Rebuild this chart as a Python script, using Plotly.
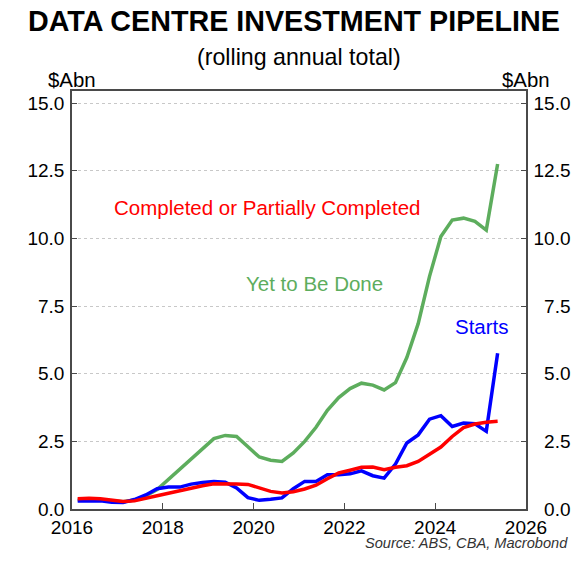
import plotly.graph_objects as go

quarters = [f"{y}Q{q}" for y in range(2016, 2026) for q in range(1, 5)][:38]

starts = [0.30, 0.31, 0.30, 0.25, 0.24, 0.35, 0.52, 0.75, 0.81, 0.81, 0.92, 0.98,
          1.02, 0.99, 0.78, 0.42, 0.32, 0.36, 0.41, 0.75, 1.02, 1.02, 1.27, 1.27,
          1.30, 1.41, 1.23, 1.14, 1.66, 2.44, 2.74, 3.32, 3.45, 3.05, 3.18, 3.15,
          2.87, 5.76]

completed = [0.38, 0.40, 0.38, 0.33, 0.28, 0.30, 0.38, 0.49, 0.58, 0.68, 0.79, 0.86,
             0.93, 0.94, 0.92, 0.91, 0.77, 0.65, 0.59, 0.64, 0.74, 0.88, 1.12, 1.33,
             1.43, 1.54, 1.55, 1.45, 1.54, 1.60, 1.76, 2.03, 2.29, 2.68, 3.01, 3.14,
             3.21, 3.24]

yet_to_be_done = [0.33, 0.35, 0.33, 0.30, 0.27, 0.33, 0.48, 0.72, 1.10, 1.50, 1.85, 2.25,
                  2.60, 2.72, 2.68, 2.30, 1.92, 1.80, 1.76, 2.07, 2.50, 3.02, 3.65, 4.12,
                  4.45, 4.65, 4.58, 4.40, 4.67, 5.60, 6.85, 8.60, 10.07, 10.68, 10.75, 10.63,
                  10.31, 12.75]

x_ticks = [2016, 2018, 2020, 2022, 2024, 2026]
y_ticks = [0.0, 2.5, 5.0, 7.5, 10.0, 12.5, 15.0]
y_left_labels = [f"{v:.1f}" for v in y_ticks]
y_right_labels = [("\u2007" if v < 10 else "") + f"{v:.1f}" for v in y_ticks]

# mid-quarter decimal year positions
x = [int(q[:4]) + (int(q[-1]) - 1) * 0.25 + 0.125 for q in quarters]

GREEN = "#5DAD5D"
RED = "#FF0000"
BLUE = "#0000FF"
FONT = "Liberation Sans, Arial, sans-serif"
AXIS = "#4a4a4a"

fig = go.Figure()
fig.add_trace(go.Scatter(x=x, y=yet_to_be_done, mode="lines", line=dict(color=GREEN, width=3.5), name="Yet to Be Done"))
fig.add_trace(go.Scatter(x=x, y=starts, mode="lines", line=dict(color=BLUE, width=3.5), name="Starts"))
fig.add_trace(go.Scatter(x=x, y=completed, mode="lines", line=dict(color=RED, width=3.5), name="Completed"))
fig.add_trace(go.Scatter(x=x, y=completed, mode="lines", line=dict(color="rgba(0,0,0,0)", width=0),
                         yaxis="y2", hoverinfo="skip", showlegend=False))

yrange = [0, 15.45]
common_y = dict(range=yrange, tickmode="array", tickvals=y_ticks, ticks="inside", ticklen=5,
                tickcolor=AXIS, showline=True, linecolor=AXIS, linewidth=1.5, automargin=False,
                tickfont=dict(size=19, color="#000", family=FONT), zeroline=False, fixedrange=True)

fig.update_layout(
    width=588, height=561,
    margin=dict(l=72, r=62, t=91, b=52, autoexpand=False),
    plot_bgcolor="white", paper_bgcolor="white",
    showlegend=False,
    font=dict(family=FONT, color="#000"),
    xaxis=dict(range=[2016, 2026], tickmode="array", tickvals=x_ticks, ticktext=[str(v) for v in x_ticks],
               ticks="inside", ticklen=6, tickcolor=AXIS, showline=True, linecolor=AXIS, linewidth=1.5,
               mirror=True, showgrid=False, zeroline=False, automargin=False, ticklabelstandoff=0,
               tickfont=dict(size=19, color="#000", family=FONT), fixedrange=True),
    yaxis=dict(**common_y, ticktext=y_left_labels, side="left", showgrid=True, gridcolor="#c8c8c8",
               griddash="dot", gridwidth=1, ticklabelstandoff=2),
    yaxis2=dict(**common_y, ticktext=y_right_labels, side="right", overlaying="y", showgrid=False,
                ticklabelstandoff=2),
)

ann = [
    dict(text="<b>DATA CENTRE INVESTMENT PIPELINE</b>", x=0.489, y=1.167, xref="paper", yref="paper",
         font=dict(size=28.7)),
    dict(text="(rolling annual total)", x=0.5, y=1.081, xref="paper", yref="paper", font=dict(size=23.2)),
    dict(text="$Abn", x=0, y=1.026, xref="paper", yref="paper", font=dict(size=20.4)),
    dict(text="$Abn", x=1, y=1.026, xref="paper", yref="paper", font=dict(size=20.4)),
    dict(text="<i>Source: ABS, CBA, Macrobond</i>", x=1.097, y=-0.081, xref="paper", yref="paper",
         xanchor="right", font=dict(size=14.6, color="#333")),
    dict(text="Completed or Partially Completed", x=2020.3, y=11.16, xref="x", yref="y",
         font=dict(size=20.5, color=RED)),
    dict(text="Yet to Be Done", x=2021.35, y=8.32, xref="x", yref="y", font=dict(size=20.5, color=GREEN)),
    dict(text="Starts", x=2025.02, y=6.73, xref="x", yref="y", font=dict(size=20.5, color=BLUE)),
]
for a in ann:
    a.setdefault("xanchor", "center")
    a.setdefault("yanchor", "middle")
    a["showarrow"] = False
    fig.add_annotation(**a)

fig.write_html("out.html", config={"displayModeBar": False},
               post_script="document.body.style.margin='0px';")
